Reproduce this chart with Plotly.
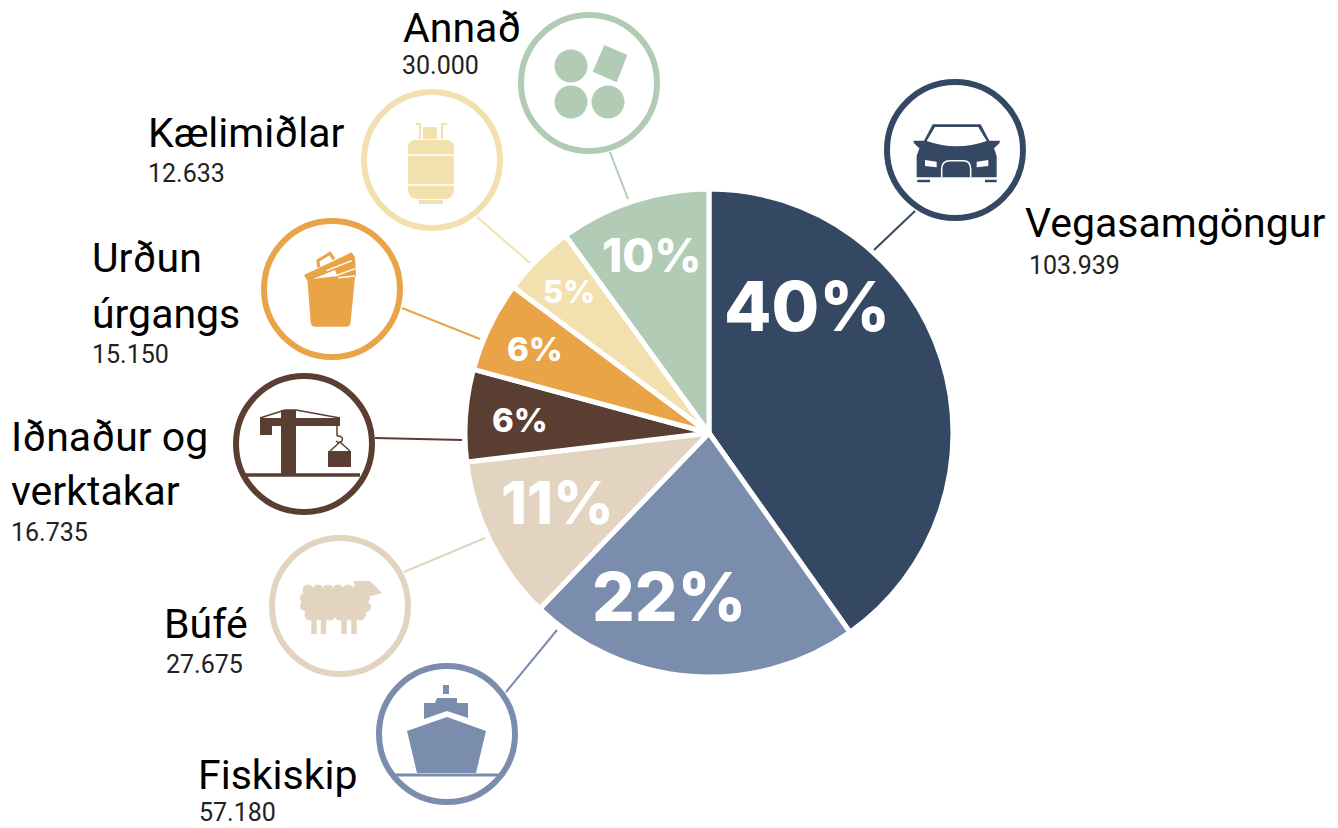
import plotly.graph_objects as go

W, H = 1338, 828

# ---- data ----
categories = ["Vegasamgöngur", "Fiskiskip", "Búfé", "Iðnaður og verktakar", "Urðun úrgangs", "Kælimiðlar", "Annað"]
slice_shares = [40.2, 22.0, 10.9, 6.1, 6.0, 4.8, 10.0]
pct_labels = ["40%", "22%", "11%", "6%", "6%", "5%", "10%"]
amount_labels = ["103.939", "57.180", "27.675", "16.735", "15.150", "12.633", "30.000"]
name_lines = [["Vegasamgöngur"], ["Fiskiskip"], ["Búfé"], ["Iðnaður og", "verktakar"],
              ["Urðun", "úrgangs"], ["Kælimiðlar"], ["Annað"]]

# ---- styling / placement ----
colors = ["#344863", "#7a8dac", "#e2d4c1", "#5a3e32", "#e8a447", "#f2e1ae", "#b2cbb5"]
pct_xy = [(807, 306), (669, 596), (557, 502), (520, 420), (535, 349), (569, 291), (651, 255)]
pct_size = [69, 67, 59, 33, 33, 31, 46]
name_xy = [[(1024, 223)], [(197, 775)], [(163, 624)], [(10, 437), (10, 491)],
           [(91, 258), (91, 314)], [(147, 133)], [(402, 28)]]
amount_xy = [(1028, 265), (198, 812), (165, 664), (10, 532), (91, 354), (147, 173), (401, 65)]
circle_c = [(955, 150), (447, 734), (340, 606), (304, 444), (332, 289), (432, 160), (589, 83)]
links = [((915, 211), (874, 250)), ((506, 692), (557, 630)), ((404, 572), (485, 538)),
         ((375, 438), (462, 440)), ((402, 308), (480, 339)), ((477, 217), (530, 263)),
         ((610, 152), (628, 199))]
CX, CY, R = 709, 433, 244
NAME_FONT = "Roboto"
NUM_FONT = "Roboto"
PCT_FONT = "Inter"


def px(x):
    return x / W


def py(y):
    return 1 - y / H


def path(*tok):
    out = []
    for t in tok:
        if isinstance(t, str):
            out.append(t)
        else:
            out.append(f"{px(t[0]):.5f},{py(t[1]):.5f}")
    return " ".join(out)


shapes = []


def fill(p, color):
    shapes.append(dict(type="path", xref="paper", yref="paper", path=p, fillcolor=color,
                       line=dict(width=0)))


def stroke(p, color, w):
    shapes.append(dict(type="path", xref="paper", yref="paper", path=p,
                       line=dict(color=color, width=w)))


def poly(pts, color):
    tok = ["M", pts[0]]
    for q in pts[1:]:
        tok += ["L", q]
    tok.append("Z")
    fill(path(*tok), color)


def line(a, b, color, w):
    stroke(path("M", a, "L", b), color, w)


def rect(x0, y0, x1, y1, color):
    poly([(x0, y0), (x1, y0), (x1, y1), (x0, y1)], color)


def disc(cx, cy, r, color):
    shapes.append(dict(type="circle", xref="paper", yref="paper", x0=px(cx - r), x1=px(cx + r),
                       y0=py(cy + r), y1=py(cy - r), fillcolor=color, line=dict(width=0)))


def ring(cx, cy, r, color, w=6):
    shapes.append(dict(type="circle", xref="paper", yref="paper", x0=px(cx - r), x1=px(cx + r),
                       y0=py(cy + r), y1=py(cy - r), fillcolor="white", line=dict(color=color, width=w)))


for (a, b), c in zip(links, colors):
    line(a, b, c, 2)
for (cx, cy), c in zip(circle_c, colors):
    ring(cx, cy, 68, c)

# car
c = colors[0]


def Zc(x, y):
    return (870 + x / 3, 70 + y / 3)


poly([Zc(*q) for q in [(188, 163), (332, 163), (358, 212), (390, 212), (388, 220), (372, 235), (380, 258),
                       (380, 322), (140, 322), (140, 258), (148, 235), (132, 220), (130, 212), (162, 212)]], c)
fill(path("M", Zc(195, 171), "L", Zc(325, 171), "L", Zc(350, 213), "Q", Zc(260, 245), Zc(170, 213), "Z"), "white")
poly([Zc(*q) for q in [(165, 270), (200, 275), (200, 292), (165, 288)]], "white")
poly([Zc(*q) for q in [(355, 270), (320, 275), (320, 292), (355, 288)]], "white")
stroke(path("M", Zc(215, 322), "L", Zc(215, 298), "Q", Zc(215, 272), Zc(240, 272), "L", Zc(280, 272),
            "Q", Zc(302, 272), Zc(302, 298), "L", Zc(302, 322)), "white", 1.5)
line(Zc(142, 333), Zc(180, 333), c, 2.5)
line(Zc(345, 333), Zc(380, 333), c, 2.5)

# ship
c = colors[1]
poly([(407, 731), (447, 717), (486, 731), (476, 773), (417, 773)], c)
poly([(424, 703), (435, 703), (437, 698), (457, 698), (457, 703), (468, 703), (468, 718), (447, 711), (424, 719)], c)
line((446, 685), (446, 694), c, 6)
line((395, 775), (498, 775), c, 3)

# sheep
c = colors[2]
rect(305, 590, 366, 616, c)
for x in (308, 318, 328, 338, 348, 358):
    disc(x, 590, 5.5, c)
for x in (310, 320, 330, 340, 350, 360):
    disc(x, 615, 5.5, c)
for x, y in ((305, 598), (305, 606), (365, 598), (366, 607)):
    disc(x, y, 5, c)
poly([(353, 581), (370, 581), (382, 593), (372, 596), (360, 594)], c)
for x0, x1 in ((311, 317), (321, 326), (341, 347), (351, 357)):
    line(((x0 + x1) / 2, 615), ((x0 + x1) / 2, 634), c, 5.5)

# crane
c = colors[3]
line((246, 475), (360, 475), c, 3.5)
rect(281, 410, 296, 475, c)
rect(260, 418, 340, 426, c)
rect(260, 418, 272, 435, c)
stroke(path("M", (260, 418), "L", (285, 410), "L", (296, 410), "L", (340, 418)), c, 1.5)
line((337, 426), (337, 436), c, 1.5)
stroke(path("M", (337, 436), "Q", (344, 436), (342, 441), "Q", (339, 444), (336, 441)), c, 1.5)
stroke(path("M", (330, 451), "L", (340, 442), "L", (350, 451)), c, 1.5)
rect(328, 451, 351, 467, c)


# bin
c = colors[4]


def Zb(x, y):
    return (220 + x / 3, 210 + y / 3)


poly([Zb(*q) for q in [(252, 195), (395, 127), (405, 142), (408, 200), (262, 212)]], c)
fill(path("M", Zb(262, 208), "L", Zb(405, 200), "L", Zb(392, 335), "Q", Zb(392, 350), Zb(377, 350),
          "L", Zb(287, 350), "Q", Zb(272, 350), Zb(272, 335), "Z"), c)
poly([Zb(*q) for q in [(278, 207), (345, 180), (352, 198)]], "white")
line(Zb(320, 182), Zb(395, 152), "white", 1.5)
line(Zb(345, 198), Zb(405, 176), "white", 1.5)
line(Zb(355, 203), Zb(405, 198), "white", 1.5)
stroke(path("M", Zb(296, 172), "L", Zb(294, 152), "L", Zb(330, 130), "L", Zb(342, 148)), c, 3)

# gas bottle
c = colors[5]
fill(path("M", (416, 140), "L", (446, 140), "Q", (454, 140), (454, 148), "L", (454, 189), "Q", (454, 199), (444, 199),
          "L", (418, 199), "Q", (408, 199), (408, 189), "L", (408, 148), "Q", (408, 140), (416, 140), "Z"), c)
line((408, 155), (454, 155), "white", 1.5)
line((408, 185), (454, 185), "white", 1.5)
rect(419, 200, 443, 204, c)
rect(423, 127, 437, 139, c)
stroke(path("M", (416, 124), "L", (420, 124), "L", (420, 139)), c, 2)
stroke(path("M", (447, 124), "L", (442, 124), "L", (442, 139)), c, 2)

# other
c = colors[6]
disc(571, 66, 16.5, c)
disc(571, 102, 16.5, c)
disc(608, 102, 16.5, c)
poly([(604.3, 45), (627.3, 55), (616.7, 82.3), (592.7, 71.7)], c)

annotations = []


def text(x, y, s, size, family, color, anchor="left", weight=None):
    annotations.append(dict(xref="paper", yref="paper", x=px(x), y=py(y), text=s, showarrow=False,
                            xanchor=anchor, yanchor="middle", borderpad=0,
                            font=dict(size=size, family=family, color=color, weight=weight)))


for lines, xy in zip(name_lines, name_xy):
    for s, (x, y) in zip(lines, xy):
        text(x, y, s, 41, NAME_FONT, "#000000", weight=400)
for s, (x, y) in zip(amount_labels, amount_xy):
    text(x, y, s, 25, NUM_FONT, "#222222", weight=400)
for s, (x, y), sz in zip(pct_labels, pct_xy, pct_size):
    text(x, y, s, sz, PCT_FONT, "#ffffff", anchor="center", weight=800)

fig = go.Figure(go.Pie(
    labels=categories, values=slice_shares, sort=False, direction="clockwise", rotation=0,
    marker=dict(colors=colors, line=dict(color="white", width=5)),
    textinfo="none", hoverinfo="label+value", showlegend=False,
    domain=dict(x=[px(CX - R), px(CX + R)], y=[py(CY + R), py(CY - R)]),
))
fig.update_layout(width=W, height=H, margin=dict(l=0, r=0, t=0, b=0), paper_bgcolor="white",
                  shapes=shapes, annotations=annotations, showlegend=False)
fig.write_html("out.html", config=dict(displayModeBar=False),
               post_script="document.body.style.margin='0';document.body.style.overflow='hidden';")
